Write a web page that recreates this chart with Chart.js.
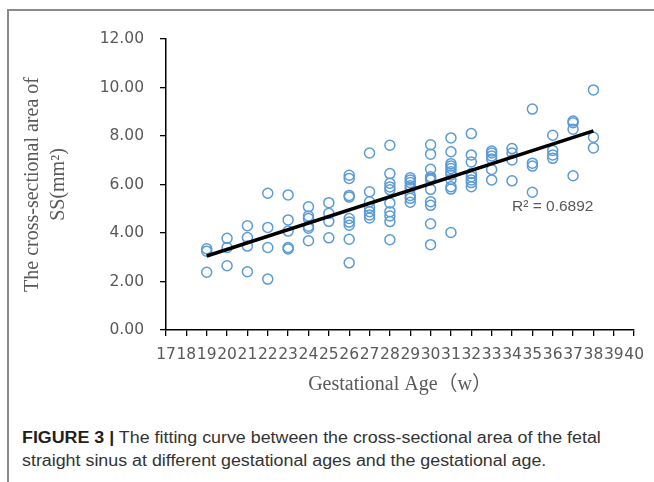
<!DOCTYPE html>
<html>
<head>
<meta charset="utf-8">
<script src="https://cdn.jsdelivr.net/npm/chart.js@4.4.0/dist/chart.umd.min.js"></script>
<style>
  html, body { margin: 0; padding: 0; background: #fff; }
  body { width: 654px; height: 482px; position: relative; overflow: hidden; }
  #frame {
    position: absolute; left: 7px; top: 9px; width: 700px; height: 500px;
    border-left: 2px solid #8a8a8a; border-top: 2px solid #8a8a8a;
  }
  #chart { position: absolute; left: 0; top: 0; }
  #caption {
    position: absolute; left: 22px; top: 426px; width: 600px;
    font-family: 'Liberation Sans', Arial, sans-serif; font-size: 16px;
    line-height: 23px; color: #333; white-space: nowrap;
    transform: scaleX(1.115); transform-origin: 0 0;
  }
  #caption b { color: #231f20; }
</style>
</head>
<body>
<div id="frame"></div>
<canvas id="chart" width="654" height="400"></canvas>
<div id="caption"><b>FIGURE 3 |</b> The fitting curve between the cross-sectional area of the fetal<br>straight sinus at different gestational ages and the gestational age.</div>
<script>
// gestational week of each column of points
const weeks = [19, 20, 21, 22, 23, 24, 25, 26, 27, 28, 29, 30, 31, 32, 33, 34, 35, 36, 37, 38];
// cross-sectional area (mm2) read for each week
const areas = [
  [3.35, 3.25, 2.38],
  [3.78, 3.40, 2.65],
  [4.30, 3.81, 3.46, 2.40],
  [5.64, 4.23, 3.40, 2.10],
  [5.57, 4.54, 4.08, 3.40, 3.34],
  [5.08, 4.70, 4.60, 4.28, 4.20, 3.68],
  [5.25, 4.81, 4.48, 3.80],
  [6.38, 6.25, 5.55, 5.48, 4.60, 4.45, 4.32, 3.74, 2.77],
  [7.30, 5.70, 5.29, 5.05, 4.88, 4.74, 4.62],
  [7.62, 6.45, 6.05, 5.90, 5.78, 5.24, 4.88, 4.70, 4.47, 3.72],
  [6.28, 6.19, 6.08, 5.95, 5.84, 5.55, 5.43, 5.27],
  [7.64, 7.25, 6.63, 6.32, 6.25, 6.19, 5.80, 5.29, 5.14, 4.38, 3.52],
  [7.92, 7.35, 6.86, 6.76, 6.66, 6.53, 6.39, 6.21, 5.91, 5.81, 4.02],
  [8.10, 7.22, 6.93, 6.45, 6.32, 6.19, 6.08, 5.91],
  [7.38, 7.30, 7.18, 7.05, 6.62, 6.19],
  [7.48, 7.30, 7.01, 6.15],
  [9.11, 6.88, 6.76, 5.68],
  [8.03, 7.40, 7.22, 7.08],
  [8.62, 8.55, 8.28, 6.36],
  [9.90, 7.95, 7.51],
];
// linear trend line end points
const trendX = [19, 38];
const trendY = [3.05, 8.21];
const r2Text = 'R\u00B2 = 0.6892';
const r2Pos = { x: 38, y: 5.08 };

const points = [];
weeks.forEach((w, i) => areas[i].forEach((a) => points.push({ x: w, y: a })));

const r2Label = {
  id: 'r2Label',
  afterDatasetsDraw(chart) {
    const { ctx, scales } = chart;
    ctx.save();
    ctx.font = "15.5px 'Liberation Sans', Arial, sans-serif";
    ctx.fillStyle = '#595959';
    ctx.textAlign = 'right';
    ctx.textBaseline = 'middle';
    ctx.fillText(r2Text, scales.x.getPixelForValue(r2Pos.x), scales.y.getPixelForValue(r2Pos.y));
    ctx.restore();
  },
};

const tickFont = { family: "'DejaVu Sans', sans-serif", size: 15.5 };
const titleFont = { family: "'Liberation Serif', 'Noto Sans CJK SC', serif", size: 20 };

new Chart(document.getElementById('chart'), {
  type: 'scatter',
  plugins: [r2Label],
  data: {
    datasets: [
      {
        type: 'line',
        data: trendX.map((x, i) => ({ x, y: trendY[i] })),
        borderColor: '#000',
        borderWidth: 3.5,
        pointRadius: 0,
        fill: false,
      },
      {
        data: points,
        pointStyle: 'circle',
        pointRadius: 5,
        borderColor: '#5B9BD5',
        backgroundColor: 'rgba(0,0,0,0)',
        borderWidth: 1.5,
      },
    ],
  },
  options: {
    responsive: false,
    animation: false,
    devicePixelRatio: 1,
    layout: { padding: { top: 39, right: 10, left: 0, bottom: 0 } },
    plugins: { legend: { display: false }, tooltip: { enabled: false } },
    scales: {
      x: {
        type: 'linear',
        min: 17,
        max: 40,
        afterFit: (s) => { s.height = 70; },
        ticks: {
          stepSize: 1,
          autoSkip: false,
          maxRotation: 0,
          padding: 10,
          color: '#595959',
          font: tickFont,
        },
        grid: { drawOnChartArea: false, tickLength: 6, color: '#000', lineWidth: 1.3 },
        border: { color: '#000', width: 1.5 },
        title: {
          display: true,
          text: 'Gestational Age（w）',
          color: '#595959',
          font: titleFont,
          padding: { top: 0, bottom: 3 },
        },
      },
      y: {
        min: 0,
        max: 12,
        afterFit: (s) => { s.width = 166; },
        ticks: {
          stepSize: 2,
          padding: 16,
          color: '#595959',
          font: tickFont,
          callback: (v) => v.toFixed(2),
        },
        grid: { drawOnChartArea: false, tickLength: 6, color: '#000', lineWidth: 1.3 },
        border: { color: '#000', width: 1.5 },
        title: {
          display: true,
          text: ['The cross-sectional area of', 'SS(mm\u00B2)'],
          color: '#595959',
          font: { ...titleFont, lineHeight: 1.3 },
          padding: { top: 20, bottom: 0 },
        },
      },
    },
  },
});
</script>
</body>
</html>
